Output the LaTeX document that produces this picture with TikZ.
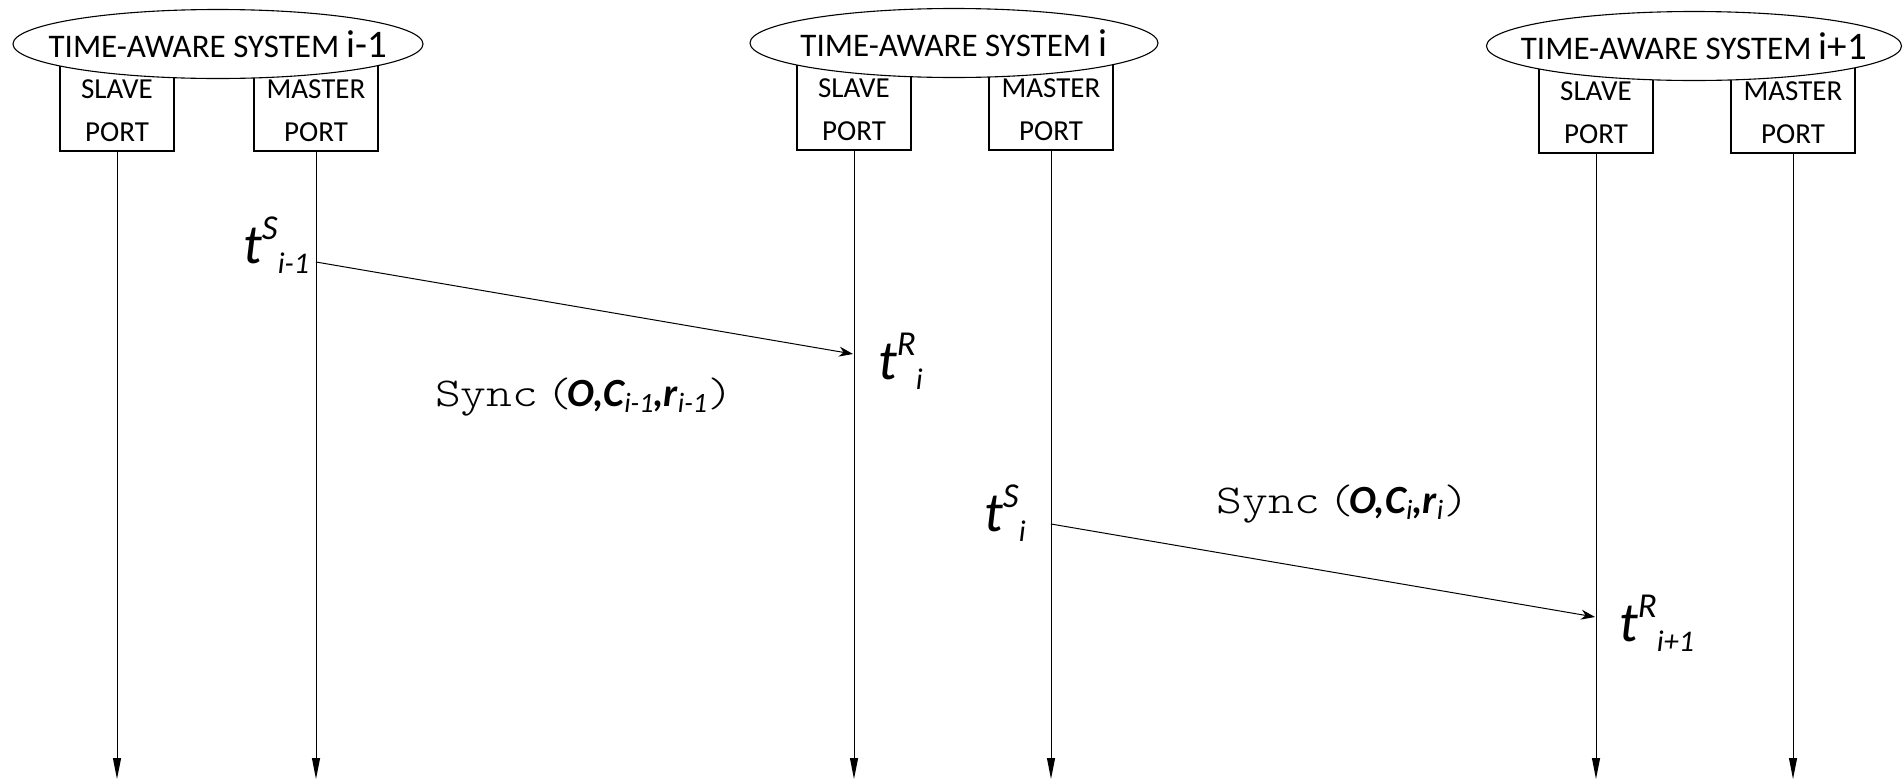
\documentclass[tikz,border=0pt]{standalone}
\usepackage{fontspec}
\setmainfont{Carlito}
\newfontfamily\syncfont{lmmonolt10-regular.otf}[FakeStretch=1.2]
\usetikzlibrary{shapes.geometric,arrows.meta}

\tikzset{
  system/.style={ellipse,draw,fill=white,line width=1.1pt,inner xsep=-34pt,inner ysep=0pt,
    minimum width=410pt,minimum height=69pt,font=\fontsize{33}{36}\selectfont},
  port/.style={draw,line width=1.1pt,minimum height=92pt,inner sep=0pt},
  porttext/.style={align=center,inner sep=0pt,font=\fontsize{29}{43}\selectfont},
  life/.style={line width=1pt,-{Triangle[length=21pt,width=8pt]}},
  msg/.style={line width=1pt,-{Stealth[length=14pt,width=10pt]}},
  tlabel/.style={inner sep=0pt,font=\itshape\fontsize{56}{60}\selectfont},
  synclabel/.style={inner sep=0pt,font=\syncfont\fontsize{41}{45}\selectfont},
}
\newcommand{\tstamp}[2]{t\raisebox{24pt}{\fontsize{35}{35}\selectfont #1}\raisebox{-10pt}{\fontsize{30}{30}\selectfont #2}}
\newcommand{\lowsub}[1]{\raisebox{-6pt}{\mdseries\fontsize{28}{28}\selectfont #1}}
\newcommand{\syncargs}[1]{\kern-5pt{\rmfamily\bfseries\itshape\fontsize{40}{44}\selectfont #1}}

\begin{document}
\begin{tikzpicture}[x=1pt,y=-1pt]
  \useasboundingbox (0,0) rectangle (1903,780);

  % ports
  \node[port,minimum width=114pt] (sp1) at (117,105) {};
  \node[port,minimum width=124pt] (mp1) at (316,105) {};
  \node[port,minimum width=114pt] (sp2) at (854,104) {};
  \node[port,minimum width=124pt] (mp2) at (1051,104) {};
  \node[port,minimum width=114pt] (sp3) at (1596,107) {};
  \node[port,minimum width=124pt] (mp3) at (1793,107) {};
  \node[porttext] (sp1t) at (117,110.5) {SLAVE\\PORT};
  \node[porttext] (mp1t) at (316,110.5) {MASTER\\PORT};
  \node[porttext] (sp2t) at (854,109.5) {SLAVE\\PORT};
  \node[porttext] (mp2t) at (1051,109.5) {MASTER\\PORT};
  \node[porttext] (sp3t) at (1596,112.5) {SLAVE\\PORT};
  \node[porttext] (mp3t) at (1793,112.5) {MASTER\\PORT};

  % systems
  \node[system] (sys1) at (218,44) {TIME-AWARE SYSTEM {\fontsize{39}{42}\selectfont i-1}};
  \node[system,minimum width=408pt] (sys2) at (954,43) {TIME-AWARE SYSTEM {\fontsize{39}{42}\selectfont i}};
  \node[system,minimum width=415pt] (sys3) at (1694,46) {TIME-AWARE SYSTEM {\fontsize{39}{42}\selectfont i+1}};

  % time lines
  \coordinate (se1) at (117,779);
  \coordinate (me1) at (316,779);
  \coordinate (se2) at (854,779);
  \coordinate (me2) at (1051,779);
  \coordinate (se3) at (1596,779);
  \coordinate (me3) at (1793,779);
  \draw[life] (sp1) -- (se1);
  \draw[life] (mp1) -- (me1);
  \draw[life] (sp2) -- (se2);
  \draw[life] (mp2) -- (me2);
  \draw[life] (sp3) -- (se3);
  \draw[life] (mp3) -- (me3);

  % sync messages
  \coordinate (tx1) at (316,262);
  \coordinate (rx1) at (853,354);
  \coordinate (tx2) at (1051,524);
  \coordinate (rx2) at (1595,617);
  \draw[msg] (tx1) -- (rx1);
  \draw[msg] (tx2) -- (rx2);

  \node[tlabel,anchor=base west] (ts1) at (243,263) {\tstamp{S}{i-1}};
  \node[tlabel,anchor=base west] (tr1) at (878,379) {\tstamp{R}{i}};
  \node[tlabel,anchor=base west] (ts2) at (984,531) {\tstamp{S}{i}};
  \node[tlabel,anchor=base west] (tr2) at (1619,641) {\tstamp{R}{i+1}};

  \node[synclabel] (sync1) at (584,397) {Sync\hspace{8pt}(\syncargs{O,C\lowsub{i-1},r\lowsub{i-1}})};
  \node[synclabel] (sync2) at (1343,504) {Sync\hspace{8pt}(\syncargs{O,C\lowsub{i},r\lowsub{i}})};
\end{tikzpicture}
\end{document}
